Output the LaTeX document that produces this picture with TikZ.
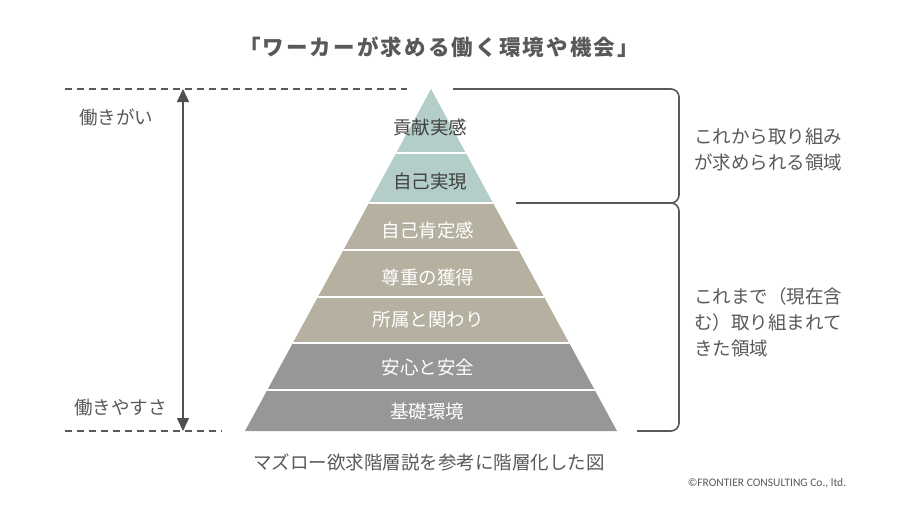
\documentclass[tikz,border=0pt]{standalone}
\usepackage{fontspec}
\newfontfamily\jp{Noto Sans CJK JP}
\newfontfamily\jpt{Noto Sans CJK JP}[LetterSpace=10]
\newfontfamily\lat{Carlito}
\usetikzlibrary{arrows.meta}
\definecolor{txt}{HTML}{595959}
\definecolor{dtxt}{HTML}{404040}
\definecolor{teal}{HTML}{B3CEC8}
\definecolor{taupe}{HTML}{B5B0A0}
\definecolor{grayb}{HTML}{979797}
\tikzset{
  jptext/.style={text=txt, font=\jp\fontsize{18.5}{26}\selectfont, inner sep=0pt},
  laydark/.style={text=dtxt, font=\jp\fontsize{18.5}{22}\selectfont, inner sep=0pt},
  laylight/.style={text=white, font=\jp\fontsize{18.5}{22}\selectfont, inner sep=0pt},
  dashline/.style={draw=txt, line width=1.5pt, dash pattern=on 7pt off 5pt},
  bracketline/.style={draw=txt, line width=1.6pt, rounded corners=8pt},
  gap/.style={draw=white, line width=2.6pt},
  dblarrow/.style={draw=txt!90!black, line width=1.3pt, {Triangle[length=13pt,width=12pt]}-{Triangle[length=13pt,width=12pt]}}
}
\begin{document}
\begin{tikzpicture}[x=1pt,y=-1pt]
\useasboundingbox[fill=white] (0,0) rectangle (900,506);

% title
\node[text=txt, font=\jpt\bfseries\fontsize{21.5}{24}\selectfont, inner sep=0pt] (title) at (439,47) {「ワーカーが求める働く環境や機会」};

% pyramid
\coordinate (apex) at (431,89);
\coordinate (bl) at (245,431);
\coordinate (br) at (617,431);
\begin{scope}
  \clip (apex) -- (bl) -- (br) -- cycle;
  \fill[teal] (200,80) rectangle (700,203);
  \fill[taupe] (200,203) rectangle (700,343);
  \fill[grayb] (200,343) rectangle (700,440);
  \foreach \yy in {153,203,250,297,343,390} {
    \draw[gap] (200,\yy) -- (700,\yy);
  }
\end{scope}

\node[laydark] (l1) at (430,127) {貢献実感};
\node[laydark] (l2) at (430,182) {自己実現};
\node[laylight] (l3) at (428,230) {自己肯定感};
\node[laylight] (l4) at (428,277) {尊重の獲得};
\node[laylight] (l5) at (428,320) {所属と関わり};
\node[laylight] (l6) at (428,367) {安心と安全};
\node[laylight] (l7) at (427,411) {基礎環境};

% dashed guide lines
\coordinate (dt1) at (65,89);
\coordinate (dt2) at (407,89);
\coordinate (db1) at (65,431);
\coordinate (db2) at (222,431);
\draw[dashline] (dt1) -- (dt2);
\draw[dashline] (db1) -- (db2);

% double arrow
\coordinate (atop) at (183,89);
\coordinate (abot) at (183,431);
\draw[dblarrow] (atop) -- (abot);

\node[jptext, anchor=west] (lt) at (79,117) {働きがい};
\node[jptext, anchor=west] (lb) at (74,408) {働きやすさ};

% brackets
\coordinate (b1s) at (453,89);
\coordinate (b1c1) at (679,89);
\coordinate (b1c2) at (679,203);
\coordinate (b1e) at (516,203);
\coordinate (b2s) at (667,203);
\coordinate (b2c1) at (679,203);
\coordinate (b2c2) at (679,431);
\coordinate (b2e) at (637,431);
\draw[bracketline] (b1s) -- (b1c1) -- (b1c2) -- (b1e);
\draw[bracketline] (b2s) -- (b2c1) -- (b2c2) -- (b2e);

\node[jptext, anchor=west, align=left] (r1) at (694,149) {これから取り組み\\が求められる領域};
\node[jptext, anchor=west, align=left] (r2) at (694,322) {これまで（現在含\\む）取り組まれて\\きた領域};

% caption
\node[jptext] (cap) at (429,462) {マズロー欲求階層説を参考に階層化した図};
\node[text=txt, font=\lat\fontsize{11.5}{13}\selectfont, inner sep=0pt] (copy) at (767,483) {©FRONTIER CONSULTING Co., ltd.};
\end{tikzpicture}
\end{document}
